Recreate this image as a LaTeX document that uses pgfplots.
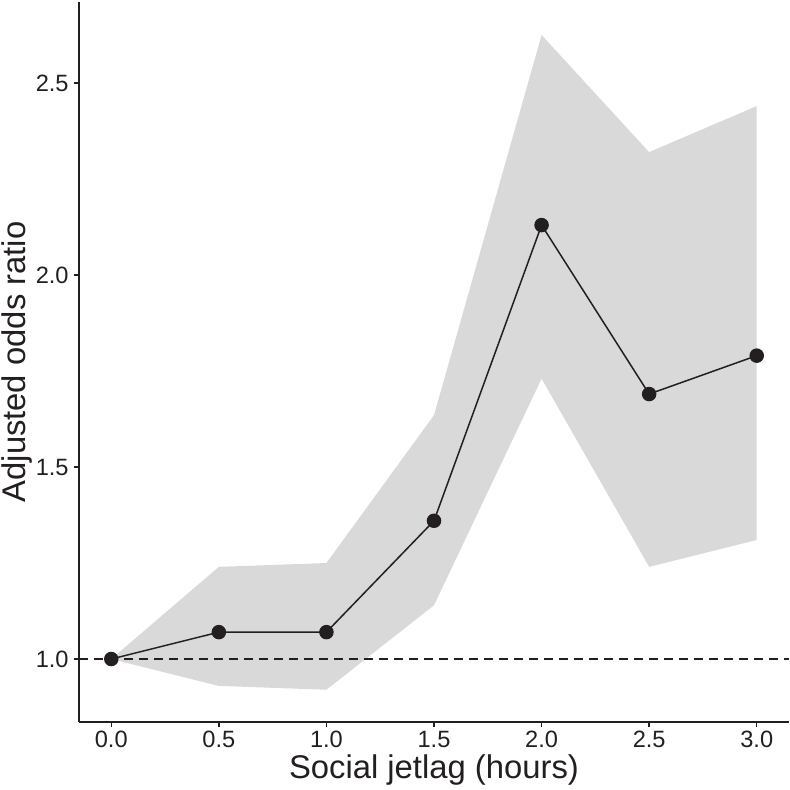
\documentclass[border=0pt]{standalone}
\usepackage{pgfplots}
\pgfplotsset{compat=1.18}
\usepgfplotslibrary{fillbetween}
\usepackage{pgfplotstable}
\usepackage{fontspec}
\setmainfont{Liberation Sans}
\definecolor{ink}{HTML}{231F20}
\definecolor{band}{HTML}{D9D9D9}
\pgfplotstableread{
x y lo hi
0.0 1.00 1.00 1.00
0.5 1.07 0.93 1.24
1.0 1.07 0.92 1.25
1.5 1.36 1.14 1.635
2.0 2.13 1.73 2.625
2.5 1.69 1.24 2.32
3.0 1.79 1.31 2.44
}\data
\begin{document}
\begin{tikzpicture}
\begin{axis}[
  at={(0pt,0pt)}, anchor=south west,
  scale only axis, width=355pt, height=360pt,
  xmin=-0.15, xmax=3.15, ymin=0.836, ymax=2.711,
  axis x line=bottom, axis y line=left,
  axis line style={draw=ink, line width=1pt, -},
  tick align=outside, major tick length=2.5pt,
  tick style={draw=ink, line width=0.75pt},
  xtick={0,0.5,1,1.5,2,2.5,3},
  ytick={1,1.5,2,2.5},
  tick label style={font=\fontsize{11.8}{13}\selectfont, text=ink,
    /pgf/number format/fixed, /pgf/number format/fixed zerofill,
    /pgf/number format/precision=1, /pgf/number format/assume math mode=true},
  xticklabel style={inner sep=0.5pt, yshift=-1.5pt},
  yticklabel style={inner sep=1pt, xshift=-1.5pt},
  xlabel={Social jetlag (hours)},
  ylabel={Adjusted odds ratio},
  label style={font=\fontsize{16.4}{19}\selectfont, text=ink, inner sep=0pt},
  xlabel style={at={(axis description cs:0.5,-0.0785)}, anchor=base},
  ylabel style={at={(axis description cs:-0.0759,0.5)}, anchor=base},
]
\addplot[name path=hi, draw=none, forget plot] table[x=x, y=hi]{\data};
\addplot[name path=lo, draw=none, forget plot] table[x=x, y=lo]{\data};
\addplot[fill=band, draw=none] fill between[of=hi and lo];
\addplot[ink, line width=0.75pt, dash pattern=on 4.5pt off 3pt] coordinates {(-0.15,1) (3.15,1)};
\addplot[ink, line width=0.75pt, mark=*, mark size=3.25pt, mark options={fill=ink, draw=ink}] table[x=x, y=y]{\data};
\end{axis}
\pgfresetboundingbox
\path (-39.5pt,-34pt) rectangle (355.5pt,361pt);
\end{tikzpicture}
\end{document}
